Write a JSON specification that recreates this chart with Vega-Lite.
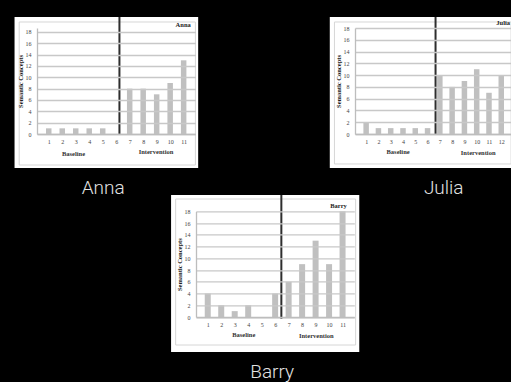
{
  "$schema": "https://vega.github.io/schema/vega-lite/v6.json",
  "background": "black",
  "padding": {"left": 14, "top": 15, "right": 0, "bottom": 0},
  "autosize": {"type": "pad"},
  "datasets": {
    "anna": [
      {"session": 1, "concepts": 1}, {"session": 2, "concepts": 1}, {"session": 3, "concepts": 1},
      {"session": 4, "concepts": 1}, {"session": 5, "concepts": 1}, {"session": 6, "concepts": 0},
      {"session": 7, "concepts": 8}, {"session": 8, "concepts": 8}, {"session": 9, "concepts": 7},
      {"session": 10, "concepts": 9}, {"session": 11, "concepts": 13}
    ],
    "julia": [
      {"session": 1, "concepts": 2}, {"session": 2, "concepts": 1}, {"session": 3, "concepts": 1},
      {"session": 4, "concepts": 1}, {"session": 5, "concepts": 1}, {"session": 6, "concepts": 1},
      {"session": 7, "concepts": 10}, {"session": 8, "concepts": 8}, {"session": 9, "concepts": 9},
      {"session": 10, "concepts": 11}, {"session": 11, "concepts": 7}, {"session": 12, "concepts": 10}
    ],
    "barry": [
      {"session": 1, "concepts": 4}, {"session": 2, "concepts": 2}, {"session": 3, "concepts": 1},
      {"session": 4, "concepts": 2}, {"session": 5, "concepts": 0}, {"session": 6, "concepts": 4},
      {"session": 7, "concepts": 6}, {"session": 8, "concepts": 9}, {"session": 9, "concepts": 13},
      {"session": 10, "concepts": 9}, {"session": 11, "concepts": 18}
    ],
    "one": [{}]
  },
  "columns": 3,
  "align": {"column": "none", "row": "each"},
  "bounds": "flush",
  "spacing": {"column": 0, "row": 77.3},
  "concat": [
    {
      "width": 158.4, "height": 106,
      "title": {"text": "Anna", "orient": "bottom", "anchor": "middle", "dx": -13, "offset": 11},
      "layer": [
        {"data": {"name": "one"}, "mark": {"type": "rect", "fill": "white", "zindex": 0},
         "encoding": {"x": {"datum": -1.535, "scale": {"domain": [0.5, 11.5], "nice": false, "zero": false}}, "x2": {"datum": 12.076},
                      "y": {"datum": 20.64, "scale": {"domain": [0, 18.7], "nice": false, "zero": false}}, "y2": {"datum": -6.0}}},
        {"data": {"name": "one"}, "mark": {"type": "rect", "fill": null, "stroke": "#d6d6d6", "strokeWidth": 1, "zindex": 0},
         "encoding": {"x": {"datum": -1.19}, "x2": {"datum": 11.87}, "y": {"datum": 19.76}, "y2": {"datum": -5.47}}},
        {"data": {"name": "anna"}, "mark": {"type": "bar", "color": "#c0c0c0", "size": 5.5, "zindex": 2},
         "encoding": {
           "x": {"field": "session", "type": "quantitative", "scale": {"domain": [0.5, 11.5], "nice": false, "zero": false},
                 "axis": {"values": [1,2,3,4,5,6,7,8,9,10,11], "tickCount": 40, "format": "d", "title": null, "zindex": 1}},
           "y": {"field": "concepts", "type": "quantitative", "scale": {"domain": [0, 18.7], "nice": false},
                 "axis": {"values": [0,2,4,6,8,10,12,14,16,18], "tickCount": 40, "format": "d", "title": "Semantic Concepts", "zindex": 1}}}},
        {"data": {"name": "one"}, "mark": {"type": "rule", "color": "#2e2e2e", "strokeWidth": 2, "zindex": 2},
         "encoding": {"x": {"datum": 6.24}, "y": {"datum": 0}, "y2": {"datum": 20.64}}},
        {"data": {"name": "one"}, "mark": {"type": "text", "text": "Anna", "align": "right", "baseline": "middle", "font": "Liberation Serif", "fontWeight": "bold", "fontSize": 6.5, "color": "#222", "zindex": 2},
         "encoding": {"x": {"datum": 11.53}, "y": {"datum": 19.2}}},
        {"data": {"name": "one"}, "mark": {"type": "text", "text": "Baseline", "align": "center", "baseline": "middle", "font": "Liberation Serif", "fontWeight": "bold", "fontSize": 6.5, "color": "#333", "zindex": 2},
         "encoding": {"x": {"datum": 2.84}, "y": {"datum": -3.53}}},
        {"data": {"name": "one"}, "mark": {"type": "text", "text": "Intervention", "align": "center", "baseline": "middle", "font": "Liberation Serif", "fontWeight": "bold", "fontSize": 6.5, "color": "#333", "zindex": 2},
         "encoding": {"x": {"datum": 8.95}, "y": {"datum": -3.18}}}
      ]
    },
    {"width": 147.6, "height": 1, "data": {"name": "one"}, "mark": {"type": "point", "opacity": 0}, "encoding": {}},
    {
      "width": 157.4, "height": 106,
      "title": {"text": "Julia", "orient": "bottom", "anchor": "middle", "dx": 10, "offset": 11},
      "layer": [
        {"data": {"name": "one"}, "mark": {"type": "rect", "fill": "white", "zindex": 0},
         "encoding": {"x": {"datum": -1.96, "scale": {"domain": [0.5, 12.5], "nice": false, "zero": false}}, "x2": {"datum": 12.8},
                      "y": {"datum": 19.87, "scale": {"domain": [0, 18], "nice": false, "zero": false}}, "y2": {"datum": -5.77}}},
        {"data": {"name": "one"}, "mark": {"type": "rect", "fill": null, "stroke": "#d6d6d6", "strokeWidth": 1, "zindex": 0},
         "encoding": {"x": {"datum": -1.58}, "x2": {"datum": 12.8}, "y": {"datum": 19.02}, "y2": {"datum": -5.09}}},
        {"data": {"name": "julia"}, "mark": {"type": "bar", "color": "#c0c0c0", "size": 5.5, "zindex": 2},
         "encoding": {
           "x": {"field": "session", "type": "quantitative", "scale": {"domain": [0.5, 12.5], "nice": false, "zero": false},
                 "axis": {"values": [1,2,3,4,5,6,7,8,9,10,11,12], "tickCount": 40, "format": "d", "title": null, "zindex": 1}},
           "y": {"field": "concepts", "type": "quantitative", "scale": {"domain": [0, 18], "nice": false},
                 "axis": {"values": [0,2,4,6,8,10,12,14,16,18], "tickCount": 40, "format": "d", "title": "Semantic Concepts", "zindex": 1}}}},
        {"data": {"name": "one"}, "mark": {"type": "rule", "color": "#2e2e2e", "strokeWidth": 2, "zindex": 2},
         "encoding": {"x": {"datum": 6.65}, "y": {"datum": 0}, "y2": {"datum": 19.87}}},
        {"data": {"name": "one"}, "mark": {"type": "text", "text": "Julia", "align": "right", "baseline": "middle", "font": "Liberation Serif", "fontWeight": "bold", "fontSize": 6.5, "color": "#222", "zindex": 2},
         "encoding": {"x": {"datum": 12.72}, "y": {"datum": 18.85}}},
        {"data": {"name": "one"}, "mark": {"type": "text", "text": "Baseline", "align": "center", "baseline": "middle", "font": "Liberation Serif", "fontWeight": "bold", "fontSize": 6.5, "color": "#333", "zindex": 2},
         "encoding": {"x": {"datum": 3.6}, "y": {"datum": -3.06}}},
        {"data": {"name": "one"}, "mark": {"type": "text", "text": "Intervention", "align": "center", "baseline": "middle", "font": "Liberation Serif", "fontWeight": "bold", "fontSize": 6.5, "color": "#333", "zindex": 2},
         "encoding": {"x": {"datum": 10.12}, "y": {"datum": -3.23}}}
      ]
    },
    {"width": 152.7, "height": 1, "data": {"name": "one"}, "mark": {"type": "point", "opacity": 0}, "encoding": {}},
    {
      "width": 158.3, "height": 105.7,
      "title": {"text": "Barry", "orient": "bottom", "anchor": "middle", "dx": -3, "offset": 11},
      "layer": [
        {"data": {"name": "one"}, "mark": {"type": "rect", "fill": "white", "zindex": 0},
         "encoding": {"x": {"datum": -1.72, "scale": {"domain": [0.5, 11.5], "nice": false, "zero": false}}, "x2": {"datum": 12.24},
                      "y": {"datum": 20.78, "scale": {"domain": [0, 18], "nice": false, "zero": false}}, "y2": {"datum": -5.96}}},
        {"data": {"name": "one"}, "mark": {"type": "rect", "fill": null, "stroke": "#d6d6d6", "strokeWidth": 1, "zindex": 0},
         "encoding": {"x": {"datum": -1.38}, "x2": {"datum": 11.97}, "y": {"datum": 20.09}, "y2": {"datum": -4.77}}},
        {"data": {"name": "barry"}, "mark": {"type": "bar", "color": "#c0c0c0", "size": 6, "zindex": 2},
         "encoding": {
           "x": {"field": "session", "type": "quantitative", "scale": {"domain": [0.5, 11.5], "nice": false, "zero": false},
                 "axis": {"values": [1,2,3,4,5,6,7,8,9,10,11], "tickCount": 40, "format": "d", "title": null, "zindex": 1}},
           "y": {"field": "concepts", "type": "quantitative", "scale": {"domain": [0, 18], "nice": false},
                 "axis": {"values": [0,2,4,6,8,10,12,14,16,18], "tickCount": 40, "format": "d", "title": "Semantic Concepts", "zindex": 1}}}},
        {"data": {"name": "one"}, "mark": {"type": "rule", "color": "#2e2e2e", "strokeWidth": 2, "zindex": 2},
         "encoding": {"x": {"datum": 6.46}, "y": {"datum": -0.34}, "y2": {"datum": 20.78}}},
        {"data": {"name": "one"}, "mark": {"type": "text", "text": "Barry", "align": "right", "baseline": "middle", "font": "Liberation Serif", "fontWeight": "bold", "fontSize": 6.5, "color": "#222", "zindex": 2},
         "encoding": {"x": {"datum": 11.32}, "y": {"datum": 18.9}}},
        {"data": {"name": "one"}, "mark": {"type": "text", "text": "Baseline", "align": "center", "baseline": "middle", "font": "Liberation Serif", "fontWeight": "bold", "fontSize": 6.5, "color": "#333", "zindex": 2},
         "encoding": {"x": {"datum": 3.67}, "y": {"datum": -3.0}}},
        {"data": {"name": "one"}, "mark": {"type": "text", "text": "Intervention", "align": "center", "baseline": "middle", "font": "Liberation Serif", "fontWeight": "bold", "fontSize": 6.5, "color": "#333", "zindex": 2},
         "encoding": {"x": {"datum": 9.05}, "y": {"datum": -3.24}}}
      ]
    }
  ],
  "config": {
    "view": {"stroke": null},
    "title": {"color": "#e2e2e2", "font": "Roboto", "fontWeight": 300, "fontSize": 19},
    "axis": {"zindex": 1, "labelFont": "Liberation Serif", "labelFontSize": 6, "labelColor": "#444",
             "titleFont": "Liberation Serif", "titleFontSize": 6.5, "titleFontWeight": "bold", "titleColor": "#222",
             "gridColor": "#c8c8c8", "gridWidth": 1.3, "domainColor": "#bdbdbd", "domainWidth": 1.3,
             "ticks": false, "labelFlush": false, "labelOverlap": false},
    "axisX": {"grid": false, "labelPadding": 4},
    "axisY": {"grid": true, "labelPadding": 6, "titlePadding": 2}
  }
}
